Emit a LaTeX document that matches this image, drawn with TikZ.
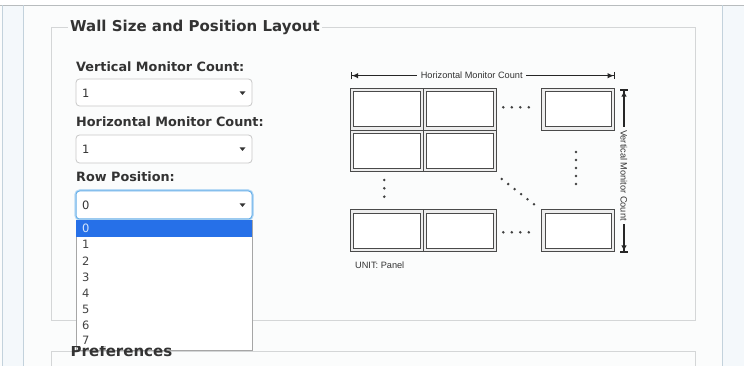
\documentclass[tikz,border=0pt]{standalone}
\usepackage{fontspec}
\setmainfont{DejaVu Sans}
\newfontfamily\arialf{Liberation Sans}
\usetikzlibrary{arrows.meta}
\definecolor{bg}{HTML}{FBFCFC}
\definecolor{sidebg}{HTML}{F4F8FB}
\definecolor{sideline}{HTML}{C3D2DC}
\definecolor{topline}{HTML}{B8BCBE}
\definecolor{fsborder}{HTML}{D4D6D7}
\definecolor{txt}{HTML}{333333}
\definecolor{selborder}{HTML}{C8C8C8}
\definecolor{glow}{HTML}{66AFE9}
\definecolor{hl}{HTML}{2670E8}
\definecolor{hltxt}{HTML}{D6E6FB}
\definecolor{mon}{HTML}{4A4A4A}
\definecolor{monfill}{HTML}{EDEDED}
\definecolor{itemtxt}{HTML}{444444}
\begin{document}
\begin{tikzpicture}[x=1pt,y=-1pt,
  label/.style={font=\fontsize{12.8}{14}\selectfont\bfseries, text=txt, inner sep=0pt, anchor=base west},
  legendtxt/.style={font=\fontsize{15}{17}\selectfont\bfseries, text=txt, inner sep=0pt, anchor=base west},
  seltxt/.style={font=\fontsize{11.5}{13}\selectfont, text=txt, inner sep=0pt, anchor=west},
  item/.style={font=\fontsize{11.5}{13}\selectfont, text=itemtxt, inner sep=0pt, anchor=west},
  selbox/.style={draw=selborder, line width=0.8pt, fill=white, rounded corners=3.5pt},
  caret/.style={fill=txt},
  monitor/.style={draw=mon, line width=1pt, fill=monfill, minimum width=73pt, minimum height=41.7pt, inner sep=0pt, outer sep=0pt,
    path picture={\draw[mon, line width=1pt, fill=white] ([shift={(3.2pt,-3.2pt)}]path picture bounding box.north west) rectangle ([shift={(-3.2pt,3.2pt)}]path picture bounding box.south east);}},
  dimtext/.style={font=\arialf\fontsize{9.2}{11}\selectfont, text=txt, inner sep=3.5pt},
  dim/.style={draw=black!85, line width=1.3pt},
  dot/.style={fill=black!75, draw=none}
]
\clip (0,0) rectangle (744,366);
\useasboundingbox (0,0) rectangle (744,366);
% page background
\fill[white] (0,0) rectangle (744,366);
\fill[bg] (0,5.5) rectangle (744,366);
\fill[sidebg] (2.5,5.5) rectangle (23,366);
\fill[sidebg] (722.7,5.5) rectangle (744,366);
\draw[topline, line width=1pt] (0,5.5) -- (744,5.5);
\draw[sideline, line width=0.8pt] (2.5,5.5) -- (2.5,366);
\draw[sideline, line width=1pt] (23.2,5.5) -- (23.2,366);
\draw[sideline, line width=1pt] (722.7,5.5) -- (722.7,366);

% fieldset 1
\draw[fsborder, line width=1pt] (51.7,27.3) rectangle (695,320.3);
\node[legendtxt, fill=bg, inner xsep=2.5pt] (legend1) at (67.5,32) {Wall Size and Position Layout};

% fieldset 2
\draw[fsborder, line width=1pt] (51.7,351) rectangle (695,380);

% labels
\node[label] (lv) at (76,71.7) {Vertical Monitor Count:};
\node[label] (lh) at (76,126.7) {Horizontal Monitor Count:};
\node[label] (lr) at (76,181.5) {Row Position:};

% select 1
\draw[selbox] (76,79) rectangle (252,106);
\node[seltxt] (s1) at (82,93) {1};
\fill[caret] (239.5,91.3) -- (245.5,91.3) -- (242.5,95) -- cycle;
% select 2
\draw[selbox] (76,135) rectangle (252,163);
\node[seltxt] (s2) at (82,149) {1};
\fill[caret] (239.5,147.3) -- (245.5,147.3) -- (242.5,151) -- cycle;
% select 3 (focused)
\draw[glow!45, line width=3.5pt, rounded corners=4pt] (76,191) rectangle (252,219);
\draw[selbox, draw=glow, line width=1pt] (76,191) rectangle (252,219);
\node[seltxt] (s3) at (82,205) {0};
\fill[caret] (239.5,203.3) -- (245.5,203.3) -- (242.5,207) -- cycle;

% dropdown list
\draw[fill=white, draw=black!35, line width=0.8pt] (76,220) rectangle (252,350);
\fill[hl] (76.4,220) rectangle (251.6,236.5);
\node[item, text=hltxt] (i0) at (82,228.7) {0};
\node[item] (i1) at (82,244.8) {1};
\node[item] (i2) at (82,260.9) {2};
\node[item] (i3) at (82,277.0) {3};
\node[item] (i4) at (82,293.1) {4};
\node[item] (i5) at (82,309.2) {5};
\node[item] (i6) at (82,325.3) {6};
\node[item] (i7) at (82,340.3) {7};

% Preferences legend (top clipped by list)
\begin{scope}
\clip (40,346.5) rectangle (300,366);
\node[legendtxt] (legend2) at (70.5,356) {Preferences};
\end{scope}

% diagram monitors
\node[monitor] (m11) at (387,109.2) {};
\node[monitor] (m12) at (460,109.2) {};
\node[monitor] (m1n) at (578.3,109.2) {};
\node[monitor] (m21) at (387,150.9) {};
\node[monitor] (m22) at (460,150.9) {};
\node[monitor] (mm1) at (387,230.7) {};
\node[monitor] (mm2) at (460,230.7) {};
\node[monitor] (mmn) at (578.3,230.7) {};

% dots
\foreach \x in {503.3,511.8,520.3,528.8} {
  \fill[dot] (\x,107.3) circle (1.4pt);
  \fill[dot] (\x,232.3) circle (1.4pt);
}
\foreach \y in {152,160,168,176,184} \fill[dot] (576,\y) circle (1.4pt);
\foreach \y in {180,188.3,196.7} \fill[dot] (384.3,\y) circle (1.4pt);
\foreach \i in {0,...,5} \fill[dot] ({501.7+\i*6.46},{179+\i*5.06}) circle (1.4pt);

% dimension: horizontal
\coordinate (hleft) at (350.7,75.7);
\coordinate (hright) at (615,75.7);
\node[dimtext] (ht) at (471.7,75.7) {Horizontal Monitor Count};
\draw[dim, {Bar[width=7.5pt]Latex[length=6pt,width=5.5pt]}-] (hleft) -- (ht.west);
\draw[dim, -{Latex[length=6pt,width=5.5pt]Bar[width=7.5pt]}] (ht.east) -- (hright);

% dimension: vertical
\coordinate (vtop) at (624,89.3);
\coordinate (vbot) at (624,252.7);
\node[dimtext, rotate=-90] (vt) at (624,175.5) {Vertical Monitor Count};
\draw[dim, {Bar[width=7.5pt]Latex[length=6pt,width=5.5pt]}-] (vtop) -- (vt.west);
\draw[dim, -{Latex[length=6pt,width=5.5pt]Bar[width=7.5pt]}] (vt.east) -- (vbot);

% unit label
\node[dimtext, inner sep=0pt, anchor=west] (unit) at (355,265) {UNIT: Panel};
\end{tikzpicture}
\end{document}
